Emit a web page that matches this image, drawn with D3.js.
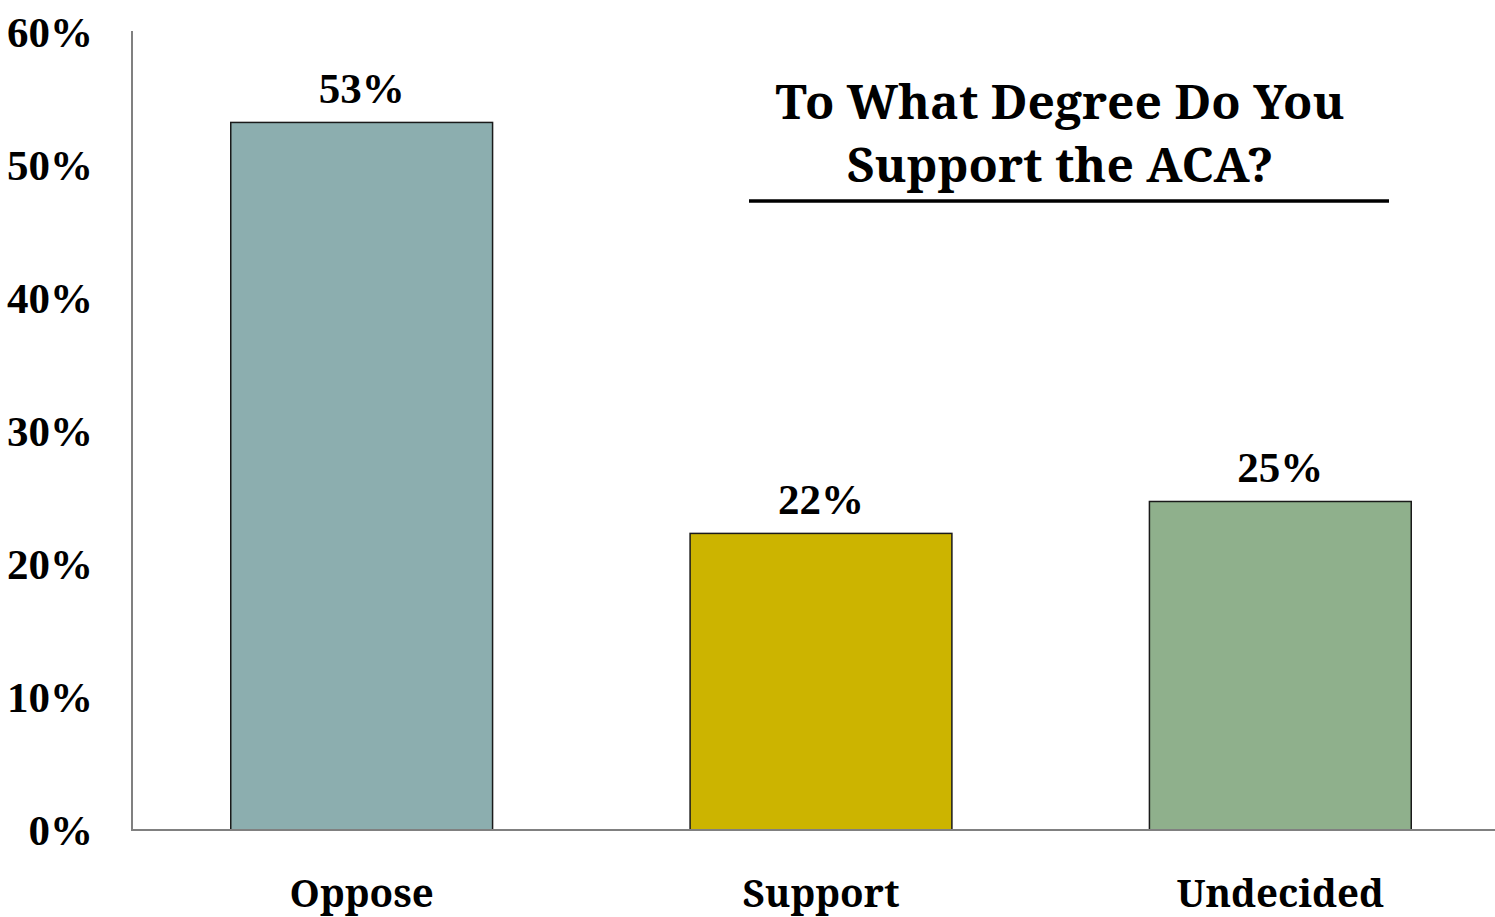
<!DOCTYPE html>
<html><head><meta charset="utf-8">
<script src="https://cdn.jsdelivr.net/npm/d3@7"></script>
<style>
html,body{margin:0;padding:0;background:#fff;}
svg{display:block;}
</style></head>
<body>
<script>
const categories = ["Oppose", "Support", "Undecided"];
const values = [53.2, 22.3, 24.7];
const valueLabels = ["53%", "22%", "25%"];
const colors = ["#8CAEAF", "#CCB400", "#8FB08C"];
const yTicks = [0, 10, 20, 30, 40, 50, 60];
const titleLines = ["To What Degree Do You", "Support the ACA?"];

const W = 1495, H = 917;
const svg = d3.select("body").append("svg").attr("width", W).attr("height", H);

const x = d3.scaleBand().domain(categories).range([132, 1510]).paddingInner(0.43).paddingOuter(0.215);
const y = d3.scaleLinear().domain([0, 60]).range([830, 32]);

const numFont = "Liberation Serif, Times New Roman, Times, serif";
const txtFont = "Noto Serif, DejaVu Serif Condensed, serif";

// bars
svg.selectAll("rect.bar").data(values).join("rect")
  .attr("x", (d, i) => x(categories[i]))
  .attr("y", d => y(d))
  .attr("width", x.bandwidth())
  .attr("height", d => y(0) - y(d))
  .attr("fill", (d, i) => colors[i])
  .attr("stroke", "#1a1a1a").attr("stroke-width", 1.5);

// axes lines
svg.append("line").attr("x1", 132).attr("x2", 132).attr("y1", 31).attr("y2", y(0))
  .attr("stroke", "#808080").attr("stroke-width", 2);
svg.append("line").attr("x1", 131).attr("x2", W).attr("y1", y(0)).attr("y2", y(0))
  .attr("stroke", "#808080").attr("stroke-width", 2);

// y tick labels
svg.selectAll("text.ytick").data(yTicks).join("text")
  .attr("x", 93).attr("y", d => y(d))
  .attr("dy", "0.34em")
  .attr("text-anchor", "end")
  .style("font-family", numFont).style("font-weight", "bold").style("font-size", "43px")
  .text(d => d + "%");

// value labels
svg.selectAll("text.val").data(values).join("text")
  .attr("x", (d, i) => x(categories[i]) + x.bandwidth() / 2)
  .attr("y", d => y(d) - 19)
  .attr("text-anchor", "middle")
  .style("font-family", numFont).style("font-weight", "bold").style("font-size", "43px")
  .text((d, i) => valueLabels[i]);

// category labels
svg.selectAll("text.cat").data(categories).join("text")
  .attr("x", d => x(d) + x.bandwidth() / 2)
  .attr("y", 907)
  .attr("text-anchor", "middle")
  .style("font-family", txtFont).style("font-weight", "bold").style("font-size", "38.5px")
  .text(d => d);

// title
svg.selectAll("text.title").data(titleLines).join("text")
  .attr("x", 1060).attr("y", (d, i) => 119 + i * 63)
  .attr("text-anchor", "middle")
  .style("font-family", txtFont).style("font-weight", "bold").style("font-size", "48px")
  .text(d => d);
svg.append("line").attr("x1", 749).attr("x2", 1389).attr("y1", 201).attr("y2", 201)
  .attr("stroke", "#000").attr("stroke-width", 3.5);
</script>
</body></html>
